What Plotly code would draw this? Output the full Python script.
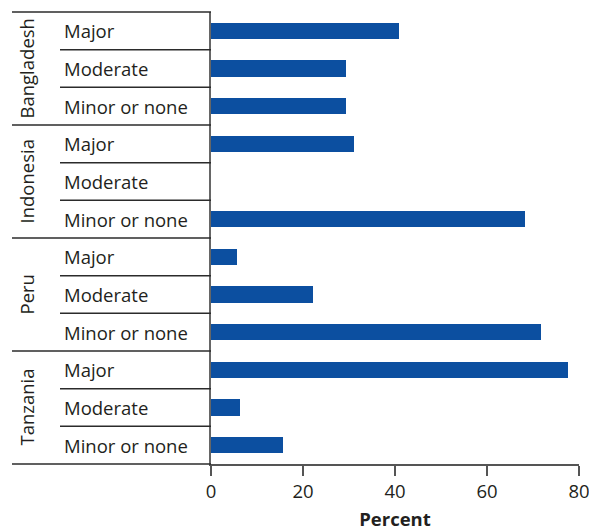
import plotly.graph_objects as go

countries = ["Bangladesh", "Indonesia", "Peru", "Tanzania"]
levels = ["Major", "Moderate", "Minor or none"]
bangladesh = [40.9, 29.3, 29.3]
indonesia = [31.1, 0.0, 68.3]
peru = [5.7, 22.2, 71.7]
tanzania = [77.6, 6.3, 15.7]
x_ticks = [0, 20, 40, 60, 80]
x_title = "Percent"

series = [bangladesh, indonesia, peru, tanzania]
cats = []
vals = []
for c, s in zip(countries, series):
    for lv, v in zip(levels, s):
        cats.append(c + "|" + lv)
        vals.append(v)

FONT = "Open Sans, Noto Sans, DejaVu Sans, sans-serif"
TXT = "#231f20"
BAR = "#0c4fa0"
LINE = "#2b2b2b"

W, H = 589, 531
ML, MR, MT, MB = 211, 10, 12, 67
PW = W - ML - MR
FS = 18.5

def px_to_paper_x(px):
    return (px - ML) / PW

fig = go.Figure(go.Bar(
    x=vals, y=cats, orientation="h",
    marker=dict(color=BAR, line=dict(width=0)),
    width=0.43,
    hoverinfo="skip",
))

n = len(cats)
shapes = []
annotations = []
x_group = px_to_paper_x(12)
x_item = px_to_paper_x(60)
for k in range(n + 1):
    yp = 1 - k / n
    x0 = x_group if k % 3 == 0 else x_item
    shapes.append(dict(type="line", xref="paper", yref="paper",
                       x0=x0, x1=0, y0=yp, y1=yp,
                       line=dict(color=LINE, width=1.5)))
for c, lv in zip(cats, [l for _ in countries for l in levels]):
    annotations.append(dict(xref="paper", yref="y", x=px_to_paper_x(62), y=c,
                            text=lv, showarrow=False, xanchor="left",
                            yanchor="middle",
                            font=dict(family=FONT, size=FS, color=TXT)))
for i, c in enumerate(countries):
    annotations.append(dict(xref="paper", yref="y", x=px_to_paper_x(26),
                            y=cats[i * 3 + 1], text=c, showarrow=False,
                            textangle=-90, xanchor="center", yanchor="middle",
                            font=dict(family=FONT, size=FS, color=TXT)))

fig.update_layout(
    width=W, height=H,
    margin=dict(l=ML, r=MR, t=MT, b=MB, pad=0, autoexpand=False),
    plot_bgcolor="white", paper_bgcolor="white",
    showlegend=False,
    bargap=0,
    shapes=shapes,
    annotations=annotations,
    font=dict(family=FONT, size=FS, color=TXT),
)
fig.update_xaxes(
    range=[0, 80], tickvals=x_ticks, ticktext=[str(t) for t in x_ticks],
    automargin=False, ticklabeloverflow="allow",
    showgrid=False, zeroline=False,
    showline=True, linecolor="#555555", linewidth=1.5,
    ticks="outside", ticklen=10, tickwidth=1.5, tickcolor="#555555",
    tickfont=dict(family=FONT, size=FS, color=TXT),
    title=dict(text="<b>" + x_title + "</b>", standoff=12,
               font=dict(family=FONT, size=FS, color=TXT)),
)
fig.update_yaxes(
    categoryorder="array", categoryarray=cats,
    range=[n - 0.5, -0.5], automargin=False,
    showticklabels=False, showgrid=False, zeroline=False,
    showline=True, linecolor="#666666", linewidth=2, ticks="",
)

fig.write_html(
    "out.html",
    config={"displayModeBar": False},
    post_script="document.body.style.margin='0';document.body.style.overflow='hidden';",
)
